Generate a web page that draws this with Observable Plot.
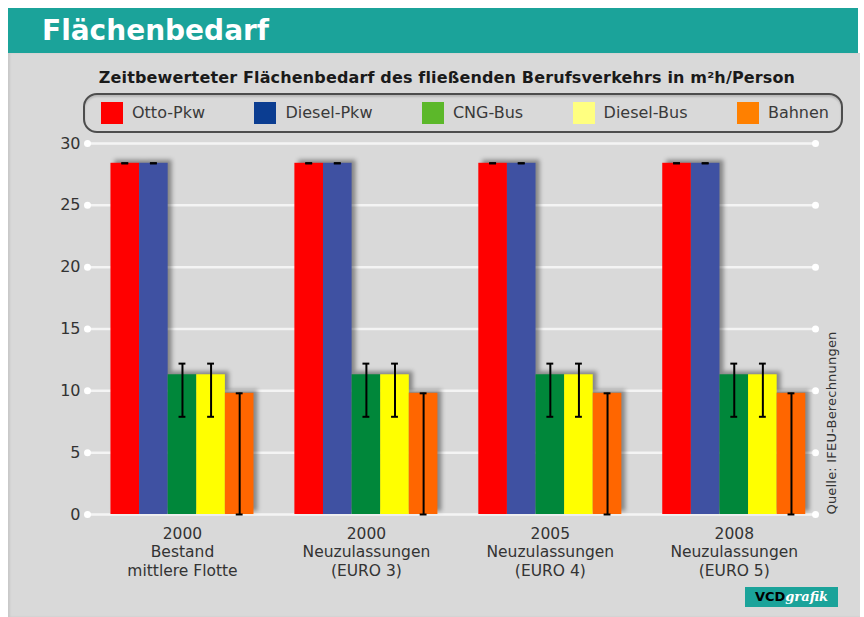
<!DOCTYPE html>
<html>
<head>
<meta charset="utf-8">
<script src="https://cdn.jsdelivr.net/npm/d3@7"></script>
<script src="https://cdn.jsdelivr.net/npm/@observablehq/plot@0.6"></script>
<style>
  body { margin: 0; background: #fff; }
  #wrap { position: relative; width: 864px; height: 617px; overflow: hidden; background: #fff; font-family: "DejaVu Sans", "Liberation Sans", sans-serif; }
  #header { position: absolute; left: 8px; top: 8px; width: 850px; height: 45px; background: #1ba39a; }
  #title { position: absolute; left: 42px; top: 17px; font: bold 28px/1 "DejaVu Sans", sans-serif; color: #fff; }
  #panel { position: absolute; left: 8px; top: 53px; width: 852px; height: 564px; background: #d9d9d9; box-shadow: inset 2px 0 2px rgba(0,0,0,0.08); }
  #subtitle { position: absolute; left: 0; width: 894px; top: 70px; text-align: center; font: bold 16px/1 "DejaVu Sans", sans-serif; letter-spacing: 0.15px; color: #1a1a1a; }
  #legend { position: absolute; left: 83px; top: 93px; width: 728px; height: 36px; border: 2px solid #4d4d4d; border-radius: 14px; box-shadow: inset 0 2px 2px rgba(0,0,0,0.15); display: flex; align-items: center; justify-content: space-between; padding: 0 12px 0 16px; box-sizing: content-box; }
  #legend .item { display: flex; align-items: center; font: 16px/1 "DejaVu Sans", sans-serif; color: #3a3a3a; }
  #legend .sw { width: 22px; height: 22px; margin-right: 9px; }
  #chart { position: absolute; left: 0; top: 130px; }
  #chart g[aria-label="rect"] { filter: drop-shadow(4px -3px 2px rgba(0,0,0,0.38)); }
  #source { position: absolute; left: 831px; top: 423px; transform: translate(-50%, -50%) rotate(-90deg); white-space: nowrap; font: 13px/1 "DejaVu Sans", sans-serif; letter-spacing: 0.2px; color: #333; }
  #logo { position: absolute; left: 745px; top: 587px; width: 93px; height: 20px; background: #1ba39a; font: bold 13px/20px "DejaVu Sans", sans-serif; text-align: center; }
  #logo .a { color: #000; }
  #logo .b { color: #fff; font-style: italic; font-family: "DejaVu Serif", serif; }
</style>
</head>
<body>
<div id="wrap">
  <div id="header"></div>
  <div id="title">Flächenbedarf</div>
  <div id="panel"></div>
  <div id="subtitle">Zeitbewerteter Flächenbedarf des fließenden Berufsverkehrs in m²h/Person</div>
  <div id="legend"></div>
  <div id="chart"></div>
  <div id="source">Quelle: IFEU-Berechnungen</div>
  <div id="logo"><span class="a">VCD</span><span class="b">grafik</span></div>
</div>
<script>
// ---- data ----
const groups = ["2000\nBestand\nmittlere Flotte", "2000\nNeuzulassungen\n(EURO 3)", "2005\nNeuzulassungen\n(EURO 4)", "2008\nNeuzulassungen\n(EURO 5)"];
const series = ["Otto-Pkw", "Diesel-Pkw", "CNG-Bus", "Diesel-Bus", "Bahnen"];
const values = [
  [28.4, 28.4, 11.3, 11.3, 9.8],
  [28.4, 28.4, 11.3, 11.3, 9.8],
  [28.4, 28.4, 11.3, 11.3, 9.8],
  [28.4, 28.4, 11.3, 11.3, 9.8]
];
const errLow = [
  [28.4, 28.4, 7.9, 7.9, 0],
  [28.4, 28.4, 7.9, 7.9, 0],
  [28.4, 28.4, 7.9, 7.9, 0],
  [28.4, 28.4, 7.9, 7.9, 0]
];
const errHigh = [
  [28.4, 28.4, 12.2, 12.2, 9.8],
  [28.4, 28.4, 12.2, 12.2, 9.8],
  [28.4, 28.4, 12.2, 12.2, 9.8],
  [28.4, 28.4, 12.2, 12.2, 9.8]
];
const yTicks = [0, 5, 10, 15, 20, 25, 30];
const barColors = ["#ff0000", "#3f51a2", "#00873a", "#ffff00", "#ff6600"];
const legendColors = ["#ff0000", "#0b3d91", "#5cb82a", "#ffff80", "#ff8000"];

// ---- layout constants (bar units) ----
const STEP = 6.43;      // group spacing in bar widths
const CAP = 0.12;       // half width of error caps

const rows = [];
groups.forEach((g, gi) => series.forEach((s, si) => {
  const c = gi * STEP + si - 2;
  rows.push({group: g, series: s, x1: c - 0.5, x2: c + 0.5, xc: c,
             value: values[gi][si], lo: errLow[gi][si], hi: errHigh[gi][si]});
}));
const centers = groups.map((g, gi) => ({label: g, x: gi * STEP}));
const xDomain = [-3.32, 22.13];

// legend
const leg = document.getElementById("legend");
series.forEach((s, i) => {
  const it = document.createElement("div");
  it.className = "item";
  it.innerHTML = `<span class="sw" style="background:${legendColors[i]}"></span><span>${s}</span>`;
  leg.appendChild(it);
});

const chart = Plot.plot({
  width: 864,
  height: 460,
  marginLeft: 87,
  marginRight: 49,
  marginTop: 13,
  marginBottom: 76,
  style: {background: "transparent", fontFamily: "DejaVu Sans, sans-serif", color: "#333"},
  x: {domain: xDomain, axis: null},
  y: {domain: [0, 30], ticks: yTicks, axis: null},
  color: {domain: series, range: barColors},
  marks: [
    Plot.ruleY(yTicks, {x1: xDomain[0], x2: xDomain[1], stroke: "#f4f4f4", strokeWidth: 2.5}),
    Plot.dot(yTicks.flatMap(t => [{x: xDomain[0], y: t}, {x: xDomain[1], y: t}]), {x: "x", y: "y", r: 3.5, fill: "#fff", stroke: "none"}),
    Plot.text(yTicks, {x: xDomain[0], y: d => d, text: d => String(d), textAnchor: "end", dx: -7, fontSize: 16, fill: "#333"}),
    Plot.rect(rows, {x1: "x1", x2: "x2", y1: 0, y2: "value", fill: "series"}),
    Plot.ruleX(rows, {x: "xc", y1: "lo", y2: "hi", stroke: "#000", strokeWidth: 2}),
    Plot.ruleY(rows, {x1: d => d.xc - CAP, x2: d => d.xc + CAP, y: "hi", stroke: "#000", strokeWidth: 2}),
    Plot.ruleY(rows, {x1: d => d.xc - CAP, x2: d => d.xc + CAP, y: "lo", stroke: "#000", strokeWidth: 2}),
    Plot.text(centers, {x: "x", y: 0, text: "label", lineAnchor: "top", dy: 11, fontSize: 15.5, lineHeight: 1.2, fill: "#333"})
  ]
});
document.getElementById("chart").appendChild(chart);
</script>
</body>
</html>
